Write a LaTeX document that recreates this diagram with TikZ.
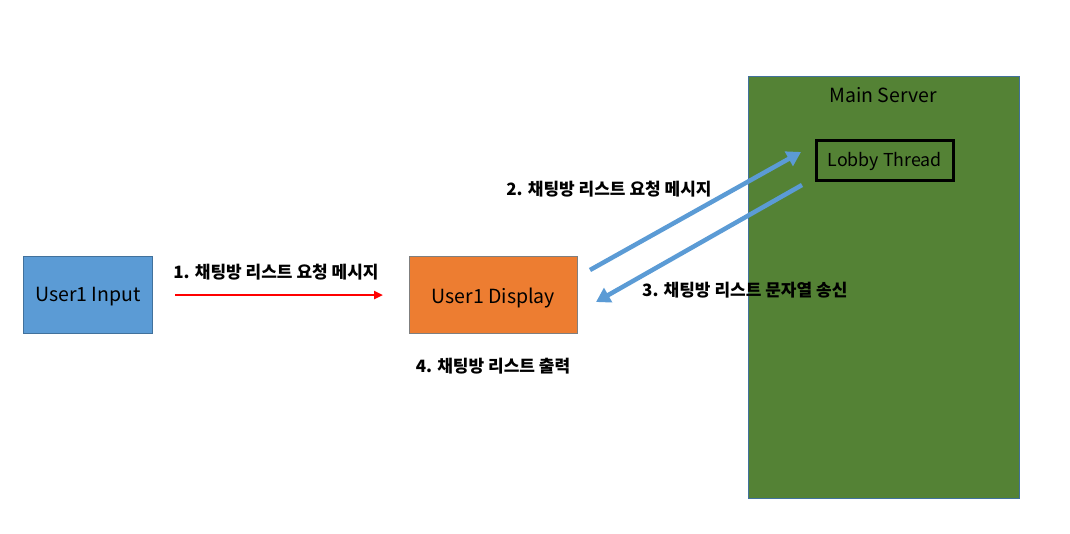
\documentclass[tikz,border=0pt]{standalone}
\usepackage{fontspec}
\setmainfont{Noto Sans CJK KR}
\usetikzlibrary{arrows.meta}
\definecolor{ublue}{HTML}{5B9BD5}
\definecolor{uborder}{HTML}{41719C}
\definecolor{uorange}{HTML}{ED7D31}
\definecolor{ugreen}{HTML}{548235}
\definecolor{ugray}{HTML}{7F7F7F}
\definecolor{ured}{HTML}{FF0000}
\begin{document}
\begin{tikzpicture}[x=1pt,y=-1pt,
  box/.style={draw, line width=0.8pt, inner sep=0pt, anchor=north west},
  btxt/.style={font=\fontsize{19.5}{22}\selectfont, inner sep=0pt},
  lbl/.style={font=\bfseries\fontsize{17}{20}\selectfont, inner sep=0pt},
  bluearrow/.style={draw=ublue, line width=4.5pt, -{Triangle[length=14pt,width=16pt]}},
  redarrow/.style={draw=ured, line width=2.6pt, -{Triangle[length=9pt,width=8pt]}}]
\useasboundingbox (0,0) rectangle (1070,533);
\node[box, fill=ublue, draw=uborder, minimum width=129pt, minimum height=77pt] (input) at (23,256) {};
\node[btxt] at ([yshift=-2pt]input.center) {User1 Input};
\node[box, fill=uorange, draw=ugray, minimum width=168pt, minimum height=77pt] (display) at (409,256) {};
\node[btxt] at ([yshift=-3pt]display.center) {User1 Display};
\node[box, fill=ugreen, draw=uborder, minimum width=271pt, minimum height=422pt] (server) at (748,76) {};
\node[btxt] (servert) at (883,95) {Main Server};
\node[box, fill=ugreen, draw=black, line width=2.5pt, minimum width=137pt, minimum height=40pt] (lobby) at (815,139) {};
\node[btxt, font=\fontsize{17.8}{21}\selectfont] at ([yshift=-1pt]lobby.center) {Lobby Thread};
\coordinate (r1) at (175,295);
\coordinate (r2) at (383,295);
\draw[redarrow] (r1) -- (r2);
\node[lbl] (l1) at (276,272) {1. 채팅방 리스트 요청 메시지};
\coordinate (a2s) at (590,270);
\coordinate (a2e) at (801,152);
\draw[bluearrow] (a2s) -- (a2e);
\node[lbl] (l2) at (609,189) {2. 채팅방 리스트 요청 메시지};
\coordinate (a3s) at (802,185);
\coordinate (a3e) at (596,302);
\draw[bluearrow] (a3s) -- (a3e);
\node[lbl, anchor=west] (l3) at (642,290) {3. 채팅방 리스트 문자열 송신};
\node[lbl] (l4) at (493,366) {4. 채팅방 리스트 출력};
\end{tikzpicture}
\end{document}
